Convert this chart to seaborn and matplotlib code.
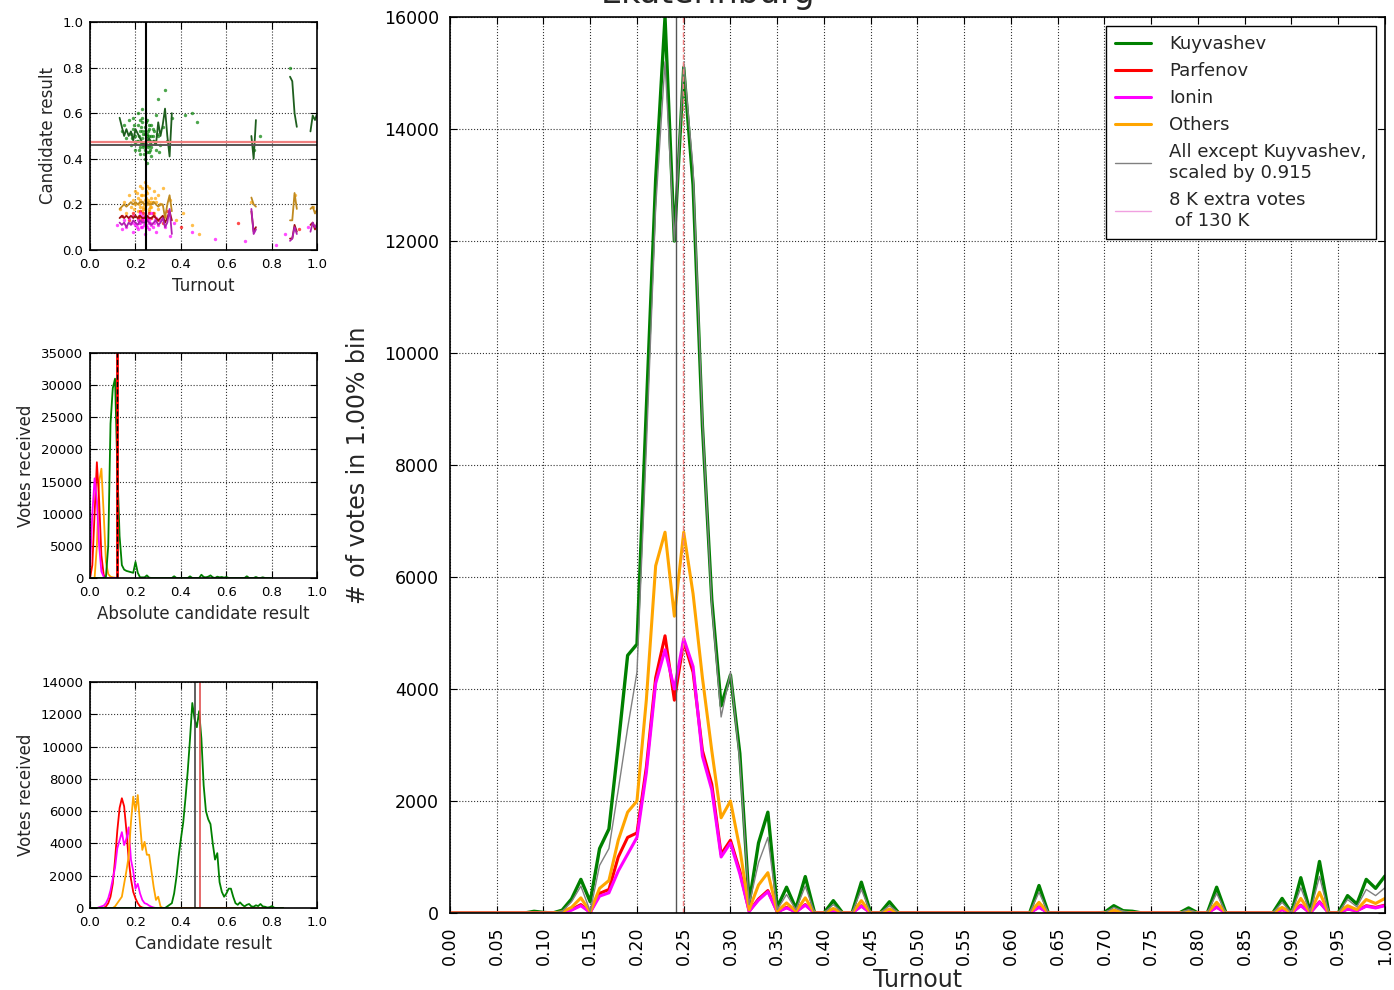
import numpy as np
import pandas as pd
import matplotlib
matplotlib.use("Agg")
import matplotlib.pyplot as plt
from matplotlib.lines import Line2D
import seaborn as sns

# ---------------- data ----------------
# big plot: votes per 1% turnout bin, 0.00 .. 1.00
turnout = np.round(np.arange(101) * 0.01, 2)

kuyvashev = [0, 0, 0, 0, 0, 0, 0, 0, 0, 30,
             10, 0, 50, 250, 600, 200, 1150, 1500, 3000, 4600,
             4800, 9000, 13100, 16000, 12000, 15100, 13000, 8700, 5600, 3700,
             4250, 2850, 180, 1250, 1800, 100, 460, 80, 650, 0,
             0, 220, 0, 0, 550, 0, 0, 200, 0, 0,
             0, 0, 0, 0, 0, 0, 0, 0, 0, 0,
             0, 0, 0, 490, 0, 0, 0, 0, 0, 0,
             10, 130, 40, 30, 0, 0, 0, 0, 0, 90,
             0, 0, 460, 0, 0, 0, 0, 0, 0, 260,
             0, 630, 20, 920, 0, 0, 310, 160, 600, 440,
             660]
parfenov = [0, 0, 0, 0, 0, 0, 0, 0, 0, 0,
            0, 0, 10, 60, 150, 10, 350, 420, 1000, 1350,
            1430, 2600, 4200, 4950, 3800, 4850, 4300, 2900, 2300, 1050,
            1300, 750, 30, 250, 400, 20, 100, 20, 150, 0,
            0, 40, 0, 0, 130, 0, 0, 40, 0, 0,
            0, 0, 0, 0, 0, 0, 0, 0, 0, 0,
            0, 0, 0, 110, 0, 0, 0, 0, 0, 0,
            0, 30, 0, 0, 0, 0, 0, 0, 0, 20,
            0, 0, 110, 0, 0, 0, 0, 0, 0, 60,
            0, 140, 0, 200, 0, 0, 70, 40, 130, 100,
            140]
ionin = [0, 0, 0, 0, 0, 0, 0, 0, 0, 0,
         0, 0, 10, 50, 130, 10, 300, 360, 750, 1050,
         1350, 2500, 4100, 4700, 4000, 4900, 4400, 2800, 2200, 1000,
         1250, 700, 30, 230, 380, 20, 90, 20, 140, 0,
         0, 40, 0, 0, 120, 0, 0, 40, 0, 0,
         0, 0, 0, 0, 0, 0, 0, 0, 0, 0,
         0, 0, 0, 100, 0, 0, 0, 0, 0, 0,
         0, 30, 0, 0, 0, 0, 0, 0, 0, 20,
         0, 0, 100, 0, 0, 0, 0, 0, 0, 60,
         0, 130, 0, 190, 0, 0, 70, 40, 120, 90,
         130]
others = [0, 0, 0, 0, 0, 0, 0, 0, 0, 0,
          0, 0, 20, 100, 270, 20, 440, 580, 1300, 1800,
          2000, 3800, 6200, 6800, 5300, 6800, 5700, 4200, 2900, 1700,
          2000, 1150, 60, 500, 720, 30, 180, 30, 270, 0,
          0, 80, 0, 0, 220, 0, 0, 70, 0, 0,
          0, 0, 0, 0, 0, 0, 0, 0, 0, 0,
          0, 0, 0, 190, 0, 0, 0, 0, 0, 0,
          0, 50, 15, 0, 0, 0, 0, 0, 0, 30,
          0, 0, 190, 0, 0, 0, 0, 0, 0, 100,
          0, 260, 10, 370, 0, 0, 130, 60, 240, 170,
          260]
scaled_rest = [0, 0, 0, 0, 0, 0, 0, 0, 0, 0,
               0, 0, 30, 200, 480, 30, 850, 1150, 2200, 3300,
               4300, 8300, 12600, 15200, 12000, 15200, 13300, 8800, 5500, 3500,
               4300, 2700, 150, 900, 1350, 60, 330, 60, 480, 0,
               0, 150, 0, 0, 420, 0, 0, 130, 0, 0,
               0, 0, 0, 0, 0, 0, 0, 0, 0, 0,
               0, 0, 0, 370, 0, 0, 0, 0, 0, 0,
               0, 100, 30, 0, 0, 0, 0, 0, 0, 60,
               0, 0, 350, 0, 0, 0, 0, 0, 0, 190,
               0, 450, 15, 650, 0, 0, 240, 110, 420, 310,
               450]

# middle-left: votes vs absolute candidate result (0.00 .. 0.80)
abs_bins = np.round(np.arange(81) * 0.01, 2)
abs_k = [0, 0, 0, 0, 0, 0, 0, 200, 5000, 24000,
         29500, 31000, 17000, 6500, 2000, 1300, 1100, 1000, 900, 800,
         2500, 800, 100, 100, 100, 400, 50, 0, 0, 0,
         0, 0, 0, 0, 0, 0, 0, 260, 0, 0,
         0, 0, 0, 0, 250, 0, 0, 0, 0, 500,
         150, 100, 200, 400, 100, 0, 200, 100, 150, 50,
         150, 0, 0, 0, 0, 0, 0, 0, 0, 260,
         0, 0, 0, 150, 0, 0, 100, 0, 0, 0,
         0]
abs_short_bins = [0.00, 0.01, 0.02, 0.03, 0.04, 0.05, 0.06, 0.07, 0.08, 0.09, 0.10, 0.11, 0.12]
abs_p = [0, 2000, 10000, 18000, 12000, 3500, 500, 0, 0, 0, 0, 0, 0]
abs_i = [2000, 10000, 15500, 12000, 5000, 1000, 200, 0, 0, 0, 0, 0, 0]
abs_o = [0, 0, 0, 5000, 15000, 17000, 10000, 2500, 600, 200, 100, 50, 0]

# bottom-left: votes vs candidate result (0.00 .. 0.85)
res_bins = np.round(np.arange(86) * 0.01, 2)
res_k = [0] * 33 + [0, 100, 200, 300, 900, 1900, 3200,
                    4300, 5300, 6800, 8500, 10500, 12700, 11700, 11200, 12200, 10500,
                    7600, 6000, 5500, 5200, 4000, 3000, 3400, 1600, 1000, 700,
                    900, 1200, 1200, 700, 300, 200, 350, 200, 100, 200,
                    250, 100, 80, 170, 120, 250, 100, 80, 30, 50,
                    120, 20, 0, 0, 0, 0]
res_p = [0, 0, 0, 0, 0, 0, 0, 100, 300, 700,
         1500, 3000, 4800, 6200, 6800, 6300, 4800, 3000, 1800, 1000,
         600, 300, 100, 30, 0] + [0] * 61
res_i = [0, 0, 0, 0, 50, 100, 150, 300, 600, 1100,
         1800, 2500, 3700, 4200, 4700, 3900, 4300, 5000, 3000, 2300,
         1200, 1500, 900, 500, 300, 250, 150, 80, 30, 0] + [0] * 56
res_o = [0, 0, 0, 0, 0, 0, 0, 0, 0, 0,
         0, 100, 300, 500, 700, 1500, 2300, 3200, 5300, 6900,
         6000, 7000, 5200, 3600, 4100, 3300, 3300, 2300, 1300, 500,
         700, 100, 0] + [0] * 53

# top-left scatter: per-station (turnout, result)
sc_k_x = [0.14, 0.15, 0.16, 0.17, 0.18, 0.18, 0.19, 0.19, 0.20, 0.20, 0.21, 0.21, 0.21, 0.22, 0.22,
          0.22, 0.23, 0.23, 0.23, 0.23, 0.24, 0.24, 0.24, 0.24, 0.25, 0.25, 0.25, 0.25, 0.26, 0.26,
          0.26, 0.27, 0.27, 0.27, 0.28, 0.28, 0.29, 0.29, 0.30, 0.30, 0.31, 0.32, 0.33, 0.34, 0.36,
          0.42, 0.45, 0.47, 0.72, 0.88, 0.75, 0.20, 0.24, 0.26, 0.23, 0.25,
          0.215, 0.225, 0.235, 0.245, 0.255, 0.265, 0.275, 0.285, 0.195, 0.205,
          0.225, 0.235, 0.245, 0.255, 0.265, 0.275, 0.215, 0.185, 0.295, 0.305,
          0.232, 0.242, 0.252, 0.262, 0.228, 0.238, 0.248, 0.258, 0.268, 0.218]
sc_k_y = [0.52, 0.55, 0.49, 0.57, 0.51, 0.46, 0.53, 0.58, 0.50, 0.44, 0.55, 0.48, 0.60, 0.52, 0.45,
          0.42, 0.56, 0.49, 0.47, 0.62, 0.51, 0.44, 0.40, 0.54, 0.48, 0.43, 0.57, 0.38, 0.50, 0.46,
          0.53, 0.45, 0.41, 0.55, 0.48, 0.52, 0.44, 0.59, 0.50, 0.66, 0.46, 0.54, 0.70, 0.48, 0.58,
          0.59, 0.60, 0.56, 0.44, 0.80, 0.50, 0.47, 0.47, 0.43, 0.52, 0.51,
          0.50, 0.54, 0.45, 0.49, 0.52, 0.44, 0.50, 0.47, 0.55, 0.48,
          0.47, 0.51, 0.56, 0.45, 0.48, 0.53, 0.44, 0.49, 0.51, 0.43,
          0.46, 0.52, 0.50, 0.47, 0.58, 0.42, 0.46, 0.55, 0.50, 0.57]
sc_o_x = [0.13, 0.15, 0.16, 0.17, 0.18, 0.19, 0.19, 0.20, 0.20, 0.21, 0.21, 0.22, 0.22, 0.22, 0.23,
          0.23, 0.23, 0.24, 0.24, 0.24, 0.25, 0.25, 0.25, 0.26, 0.26, 0.26, 0.27, 0.27, 0.28, 0.28,
          0.29, 0.30, 0.30, 0.31, 0.32, 0.33, 0.35, 0.38, 0.41, 0.45, 0.48, 0.71, 0.90, 0.98,
          0.215, 0.225, 0.235, 0.245, 0.255, 0.265, 0.275, 0.285, 0.195, 0.205,
          0.228, 0.238, 0.248, 0.258, 0.268, 0.218, 0.232, 0.242, 0.252, 0.262]
sc_o_y = [0.18, 0.21, 0.16, 0.24, 0.19, 0.22, 0.15, 0.26, 0.20, 0.17, 0.23, 0.28, 0.19, 0.14, 0.24,
          0.21, 0.17, 0.30, 0.22, 0.18, 0.25, 0.20, 0.15, 0.27, 0.21, 0.17, 0.23, 0.19, 0.26, 0.16,
          0.21, 0.24, 0.18, 0.20, 0.27, 0.15, 0.22, 0.13, 0.16, 0.11, 0.07, 0.21, 0.24, 0.19,
          0.20, 0.24, 0.18, 0.26, 0.22, 0.19, 0.21, 0.23, 0.18, 0.25,
          0.27, 0.20, 0.23, 0.18, 0.21, 0.22, 0.19, 0.24, 0.28, 0.20]
sc_p_x = [0.14, 0.17, 0.19, 0.21, 0.22, 0.23, 0.24, 0.25, 0.26, 0.27, 0.28, 0.30, 0.32, 0.34, 0.40,
          0.65, 0.92, 0.215, 0.235, 0.255, 0.275]
sc_p_y = [0.15, 0.13, 0.16, 0.14, 0.17, 0.13, 0.15, 0.13, 0.16, 0.14, 0.15, 0.13, 0.12, 0.17, 0.10,
          0.12, 0.09, 0.15, 0.16, 0.14, 0.16]
sc_i_x = [0.12, 0.14, 0.15, 0.16, 0.17, 0.18, 0.19, 0.19, 0.20, 0.21, 0.21, 0.22, 0.22, 0.23, 0.23,
          0.24, 0.24, 0.25, 0.25, 0.26, 0.26, 0.27, 0.27, 0.28, 0.29, 0.29, 0.30, 0.31, 0.33, 0.35,
          0.37, 0.45, 0.55, 0.68, 0.72, 0.82, 0.86, 0.96,
          0.215, 0.225, 0.235, 0.245, 0.255, 0.265, 0.275, 0.285, 0.195, 0.205,
          0.228, 0.238, 0.248, 0.258]
sc_i_y = [0.11, 0.09, 0.13, 0.10, 0.14, 0.12, 0.08, 0.15, 0.11, 0.13, 0.09, 0.16, 0.12, 0.10, 0.14,
          0.07, 0.12, 0.15, 0.10, 0.13, 0.09, 0.11, 0.16, 0.12, 0.08, 0.14, 0.11, 0.13, 0.10, 0.06,
          0.12, 0.08, 0.05, 0.04, 0.09, 0.02, 0.07, 0.10,
          0.12, 0.10, 0.13, 0.11, 0.14, 0.12, 0.10, 0.13, 0.12, 0.10,
          0.15, 0.11, 0.13, 0.12]

# top-left trend lines (result per turnout bin), split in segments
trend_x = [0.13, 0.14, 0.15, 0.16, 0.17, 0.18, 0.19, 0.20, 0.21, 0.22, 0.23, 0.24,
           0.25, 0.26, 0.27, 0.28, 0.29, 0.30, 0.31, 0.32, 0.33, 0.34, 0.35, 0.36,
           0.71, 0.72, 0.73,
           0.88, 0.89, 0.90, 0.91,
           0.97, 0.98, 0.99, 1.00]
trend_seg = [0] * 24 + [1] * 3 + [2] * 4 + [3] * 4
trend_k = [0.58, 0.54, 0.50, 0.53, 0.50, 0.52, 0.48, 0.53, 0.51, 0.49, 0.47, 0.46,
           0.47, 0.49, 0.47, 0.48, 0.46, 0.56, 0.50, 0.55, 0.62, 0.50, 0.41, 0.60,
           0.50, 0.40, 0.57,
           0.76, 0.74, 0.60, 0.54,
           0.52, 0.59, 0.57, 0.60]
trend_o = [0.18, 0.19, 0.20, 0.19, 0.20, 0.21, 0.20, 0.21, 0.20, 0.21, 0.21, 0.20,
           0.21, 0.20, 0.20, 0.21, 0.20, 0.19, 0.20, 0.20, 0.14, 0.20, 0.24, 0.17,
           0.23, 0.20, 0.19,
           0.13, 0.13, 0.25, 0.18,
           0.18, 0.19, 0.16, 0.18]
trend_p = [0.14, 0.15, 0.14, 0.15, 0.14, 0.15, 0.14, 0.15, 0.14, 0.15, 0.14, 0.14,
           0.15, 0.14, 0.14, 0.15, 0.14, 0.13, 0.14, 0.15, 0.12, 0.14, 0.17, 0.13,
           0.17, 0.08, 0.10,
           0.05, 0.05, 0.11, 0.08,
           0.11, 0.12, 0.09, 0.12]
trend_i = [0.12, 0.11, 0.12, 0.10, 0.12, 0.11, 0.13, 0.12, 0.11, 0.13, 0.12, 0.12,
           0.13, 0.12, 0.11, 0.12, 0.13, 0.11, 0.12, 0.14, 0.10, 0.12, 0.18, 0.07,
           0.18, 0.07, 0.09,
           0.04, 0.05, 0.10, 0.07,
           0.08, 0.12, 0.10, 0.11]

names = ["Kuyvashev", "Parfenov", "Ionin", "Others"]
colors = {"Kuyvashev": "#008000", "Parfenov": "#ff0000", "Ionin": "#ff00ff", "Others": "#ffa500"}

# ---------------- style ----------------
sns.set_style("ticks", {"xtick.direction": "in", "ytick.direction": "in"})
plt.rcParams["font.family"] = ["DejaVu Sans"]
plt.rcParams["xtick.top"] = True
plt.rcParams["ytick.right"] = True
plt.rcParams["axes.edgecolor"] = "black"
plt.rcParams["axes.linewidth"] = 1.2


def style_axes(ax, tick_size, xpad=4, ypad=4):
    ax.grid(True, linestyle=":", color="black", linewidth=0.8, alpha=0.8)
    ax.tick_params(labelsize=tick_size, length=5, width=0.8, colors="black")
    ax.tick_params(axis="x", pad=xpad)
    ax.tick_params(axis="y", pad=ypad)
    for sp in ax.spines.values():
        sp.set_visible(True)


fig = plt.figure(figsize=(13.94, 9.9), dpi=100)

# --- top-left: scatter ---
ax1 = fig.add_axes([0.0646, 0.7475, 0.163, 0.2303])
sns.scatterplot(x=sc_k_x, y=sc_k_y, color=colors["Kuyvashev"], s=6, linewidth=0, alpha=0.7, ax=ax1)
sns.scatterplot(x=sc_o_x, y=sc_o_y, color=colors["Others"], s=6, linewidth=0, alpha=0.7, ax=ax1)
sns.scatterplot(x=sc_p_x, y=sc_p_y, color=colors["Parfenov"], s=6, linewidth=0, alpha=0.7, ax=ax1)
sns.scatterplot(x=sc_i_x, y=sc_i_y, color=colors["Ionin"], s=6, linewidth=0, alpha=0.7, ax=ax1)
trend = pd.DataFrame({"x": trend_x, "seg": trend_seg, "k": trend_k, "o": trend_o,
                      "p": trend_p, "i": trend_i})
for col, c in [("k", "#1e5e1e"), ("o", "#c08a20"), ("p", "#a01010"), ("i", "#b020b0")]:
    sns.lineplot(data=trend, x="x", y=col, units="seg", estimator=None, color=c,
                 linewidth=1.3, ax=ax1, legend=False)
ax1.axhline(0.474, color="#f08080", linewidth=1.6)
ax1.axhline(0.462, color="#555555", linewidth=1.4)
ax1.axvline(0.247, color="red", linewidth=1.2)
ax1.axvline(0.245, color="black", linewidth=1.5)
ax1.set_xlim(0, 1)
ax1.set_ylim(0, 1)
ax1.set_xticks(np.arange(0, 1.01, 0.2))
ax1.set_yticks(np.arange(0, 1.01, 0.2))
ax1.set_xlabel("Turnout", fontsize=12)
ax1.set_ylabel("Candidate result", fontsize=12)
style_axes(ax1, 9.5, xpad=6, ypad=5)

# --- middle-left: absolute result ---
ax2 = fig.add_axes([0.0646, 0.4162, 0.163, 0.2273])
sns.lineplot(x=abs_short_bins, y=abs_o, color=colors["Others"], linewidth=1.3, ax=ax2)
sns.lineplot(x=abs_short_bins, y=abs_p, color=colors["Parfenov"], linewidth=1.3, ax=ax2)
sns.lineplot(x=abs_short_bins, y=abs_i, color=colors["Ionin"], linewidth=1.3, ax=ax2)
sns.lineplot(x=abs_bins, y=abs_k, color=colors["Kuyvashev"], linewidth=1.3, ax=ax2)
ax2.axvline(0.118, color="red", linewidth=2)
ax2.axvline(0.118, color="black", linewidth=1, linestyle="--")
ax2.set_xlim(0, 1)
ax2.set_ylim(0, 35000)
ax2.set_xticks(np.arange(0, 1.01, 0.2))
ax2.set_yticks(np.arange(0, 35001, 5000))
ax2.set_xlabel("Absolute candidate result", fontsize=12)
ax2.set_ylabel("Votes received", fontsize=12)
style_axes(ax2, 9.5, xpad=6, ypad=5)

# --- bottom-left: candidate result ---
ax3 = fig.add_axes([0.0646, 0.0828, 0.163, 0.2283])
sns.lineplot(x=res_bins, y=res_p, color=colors["Parfenov"], linewidth=1.3, ax=ax3)
sns.lineplot(x=res_bins, y=res_i, color=colors["Ionin"], linewidth=1.3, ax=ax3)
sns.lineplot(x=res_bins, y=res_o, color=colors["Others"], linewidth=1.3, ax=ax3)
sns.lineplot(x=res_bins, y=res_k, color=colors["Kuyvashev"], linewidth=1.3, ax=ax3)
ax3.axvline(0.463, color="#444444", linewidth=1.2)
ax3.axvline(0.484, color="#e05050", linewidth=1.2)
ax3.set_xlim(0, 1)
ax3.set_ylim(0, 14000)
ax3.set_xticks(np.arange(0, 1.01, 0.2))
ax3.set_yticks(np.arange(0, 14001, 2000))
ax3.set_xlabel("Candidate result", fontsize=12)
ax3.set_ylabel("Votes received", fontsize=12)
style_axes(ax3, 9.5, xpad=6, ypad=5)

# --- main: votes per turnout bin ---
ax = fig.add_axes([0.3228, 0.0778, 0.6707, 0.905])
sns.lineplot(x=turnout, y=kuyvashev, color=colors["Kuyvashev"], linewidth=2.4, ax=ax)
sns.lineplot(x=turnout, y=parfenov, color=colors["Parfenov"], linewidth=2.2, ax=ax)
sns.lineplot(x=turnout, y=ionin, color=colors["Ionin"], linewidth=2.2, ax=ax)
sns.lineplot(x=turnout, y=others, color=colors["Others"], linewidth=2.2, ax=ax)
sns.lineplot(x=turnout, y=scaled_rest, color="gray", linewidth=1.0, ax=ax)
ax.axvline(0.242, color="#555555", linewidth=1.0)
ax.axvline(0.2495, color="#f08080", linewidth=1.0, linestyle="--")
ax.set_xlim(0, 1)
ax.set_ylim(0, 16000)
ax.set_xticks(turnout[::5])
ax.set_xticklabels(["%.2f" % t for t in turnout[::5]], rotation=90)
ax.set_yticks(np.arange(0, 16001, 2000))
ax.set_xlabel("Turnout", fontsize=17, labelpad=2)
ax.set_ylabel("# of votes in 1.00% bin", fontsize=17, labelpad=10)
style_axes(ax, 12.5, xpad=10, ypad=8)

handles = [Line2D([], [], color=colors[n], linewidth=2.2) for n in names]
handles.append(Line2D([], [], color="gray", linewidth=1.0))
handles.append(Line2D([], [], color="#f0a0e0", linewidth=1.0))
labels = names + ["All except Kuyvashev,\nscaled by 0.915", "8 K extra votes\n of 130 K"]
leg = ax.legend(handles, labels, loc="upper right", bbox_to_anchor=(0.99, 0.99),
                borderaxespad=0, fontsize=13, fancybox=False, handlelength=2.0,
                handletextpad=1.0, labelspacing=0.5, borderpad=0.5, framealpha=1)
leg.get_frame().set_edgecolor("black")
leg.get_frame().set_linewidth(1.0)

fig.text(0.508, 1 - 3 / 990, "Ekaterinburg", ha="center", va="baseline", fontsize=24)

fig.savefig("out.png", dpi=100)
